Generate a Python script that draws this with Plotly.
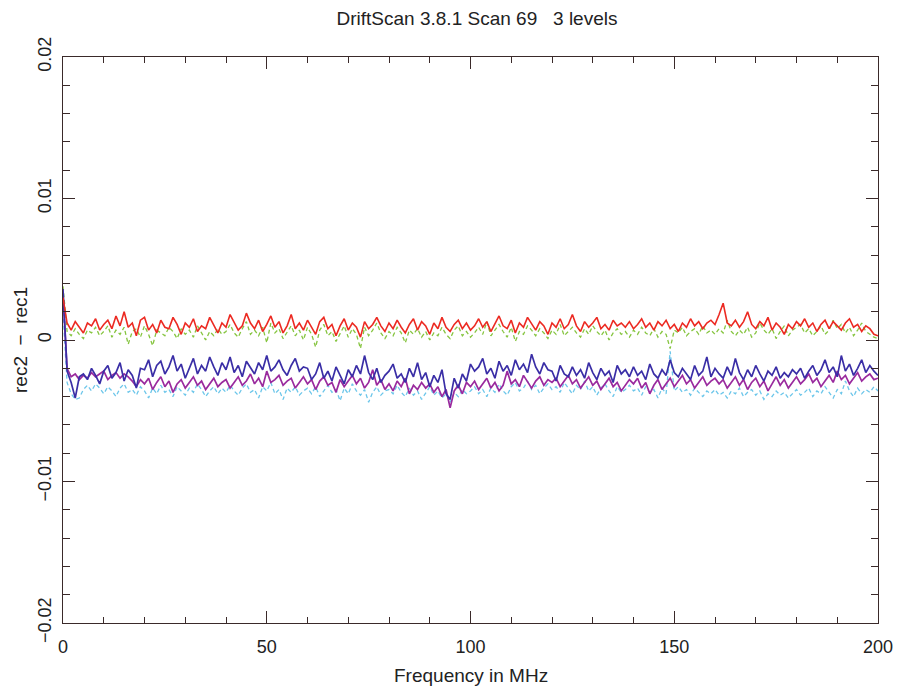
import plotly.graph_objects as go

# Frequency channels (MHz)
freq = list(range(201))

# Values, in units of 1e-4 (rec2 - rec1)
red_e4 = [
    30, 12, 7, 13, 9, 5, 12, 10, 15, 7, 11, 14, 8, 17, 10, 20, 9, 12, 3, 14,
    16, 7, 11, 5, 14, 9, 8, 16, 11, 4, 12, 9, 15, 6, 10, 8, 16, 11, 5, 12,
    9, 18, 13, 7, 10, 19, 12, 8, 14, 6, 11, 17, 9, 13, 5, 10, 18, 8, 12, 7,
    14, 9, 4, 13, 16, 8, 11, 3, 10, 15, 7, 12, 9, 2, 13, 8, 11, 16, 10, 6,
    12, 8, 14, 9, 5, 11, 15, 7, 13, 10, 4, 12, 8, 16, 9, 6, 11, 14, 8, 12,
    7, 10, 15, 9, 13, 6, 11, 17, 10, 8, 14, 5, 12, 9, 16, 11, 7, 13, 10, 4,
    12, 9, 15, 8, 11, 18, 10, 6, 13, 9, 12, 16, 8, 11, 7, 14, 10, 12, 9, 13,
    8, 11, 15, 9, 12, 7, 13, 10, 14, 8, 11, 6, 12, 9, 15, 10, 13, 8, 12, 14,
    11, 18, 26, 12, 10, 14, 9, 13, 20, 11, 8, 13, 10, 16, 7, 12, 9, 4, 11, 8,
    13, 10, 15, 9, 12, 6, 11, 14, 8, 13, 10, 7, 12, 15, 9, 11, 6, 10, 8, 4, 3,
]
green_e4 = [
    38, 6, 3, 8, 4, 1, 7, 5, 9, 3, 6, 10, 2, 7, 4, 9, -3, 6, 8, 2,
    10, 4, -4, 7, 5, 3, 9, 6, 1, 8, 4, 7, 2, 10, 5, 0, 6, 3, 8, 4,
    6, 11, 5, 2, 8, 13, 4, 7, 3, 9, -2, 12, 5, 8, 1, 6, 10, 3, 7, 0,
    9, 4, -5, 7, 11, 3, 6, -1, 5, 10, 2, 8, 4, -6, 9, 3, 7, 12, 5, 1,
    6, 3, 9, 5, -2, 7, 4, 8, 2, 6, 0, 5, 3, 9, 4, 1, 7, 10, 3, 6,
    2, 5, 9, 4, 13, 3, 7, 11, 6, 2, 9, -1, 6, 4, 10, 7, 3, 8, 5, 1,
    7, 4, 11, 3, 6, 9, 5, 2, 8, 4, 10, 6, 3, 7, 0, 5, 8, 4, 6, 2,
    7, 4, 9, 5, 3, 8, 2, 6, 4, -6, 7, 5, 9, 3, 6, 8, 4, 10, 5, 7,
    4, 8, 5, 14, 6, 3, 7, 4, 9, 2, 5, 12, 7, 4, 8, 1, 6, 10, 3, 7,
    9, 11, 5, 8, 3, 6, 10, 4, 7, 14, 8, 11, 5, 9, 3, 7, 12, 6, 4, 2, 1,
]
blue_e4 = [
    36, -22, -30, -41, -26, -24, -28, -20, -25, -31, -22, -18, -27, -23, -16, -29, -21, -25, -34, -20,
    -21, -14, -26, -18, -15, -24, -19, -11, -22, -17, -27, -20, -13, -24, -18, -22, -12, -19, -25, -16,
    -21, -12, -23, -18, -26, -15, -20, -24, -16, -21, -11, -22, -19, -14, -21, -25, -18, -13, -22, -19,
    -20, -28, -24, -16, -27, -22, -29, -19, -25, -31, -21, -26, -18, -24, -11, -23, -28, -20, -30, -25,
    -22, -17, -27, -24, -30, -20, -26, -16, -28, -23, -33, -25, -30, -21, -38, -42, -27, -34, -24, -29,
    -17, -22, -19, -13, -24, -20, -27, -15, -22, -18, -25, -14, -21, -17, -23, -10, -19, -24, -16, -21,
    -22, -29, -18, -24, -26, -19, -25, -21, -27, -16, -23, -28, -20, -25, -22, -30, -18, -24, -21, -26,
    -19, -25, -22, -28, -17, -24, -27, -21, -25, -14, -23, -26, -20, -24, -28, -18, -25, -22, -12, -26,
    -20, -24, -27, -19, -25, -13, -23, -28, -21, -26, -18, -24, -29, -22, -25, -19, -27, -23, -26, -21,
    -24, -20, -27, -22, -18, -25, -21, -14, -23, -19, -26, -11, -22, -17, -25, -20, -14, -23, -18, -22, -25,
]
purple_e4 = [
    32, -20, -26, -24, -28, -25, -27, -23, -26, -24, -22, -28, -25, -23, -27, -24, -26, -29, -33, -28,
    -31, -27, -35, -30, -26, -33, -29, -37, -31, -28, -34, -30, -26, -32, -29, -35, -31, -27, -33, -30,
    -28, -34, -30, -26, -32, -29, -24, -31, -27, -33, -22, -30, -28, -25, -32, -29, -27, -34, -30, -26,
    -31, -28, -35, -29, -26, -32, -30, -37, -28, -33, -29, -25, -31, -27, -34, -30, -21, -32, -28, -35,
    -31, -36, -29, -33, -27, -38, -32, -35, -30, -34, -31, -37, -33, -40, -35, -48, -36, -32, -38, -30,
    -33, -29, -35, -31, -27, -34, -30, -36, -32, -22, -31, -28, -33, -25, -30, -34, -29, -26, -32, -28,
    -30, -27, -33, -29, -25, -31, -28, -34, -30, -26, -32, -29, -35, -31, -27, -33, -30, -36, -32, -28,
    -31, -27, -34, -30, -38, -32, -28, -35, -31, -27, -33, -29, -25, -31, -28, -34, -30, -26, -32, -29,
    -27, -31, -28, -34, -30, -26, -32, -28, -35, -30, -27, -33, -29, -36, -31, -26, -32, -28, -34, -30,
    -26, -31, -28, -24, -30, -27, -33, -29, -25, -30, -22, -28, -25, -31, -27, -23, -29, -26, -24, -28, -27,
]
cyan_e4 = [
    20, -30, -38, -42, -41, -35, -32, -36, -31, -34, -38, -33, -36, -40, -34, -31, -37, -35, -39, -33,
    -36, -41, -34, -38, -32, -37, -35, -40, -33, -36, -39, -34, -37, -31, -35, -40, -36, -33, -38, -34,
    -37, -32, -36, -39, -34, -31, -37, -35, -41, -33, -36, -30, -38, -35, -42, -34, -37, -33, -39, -36,
    -34, -38, -33, -40, -36, -32, -37, -35, -43, -34, -38, -31, -36, -39, -35, -44, -37, -33, -39, -36,
    -35, -38, -32, -37, -40, -34, -39, -36, -42, -37, -33, -39, -36, -41, -38, -44, -37, -40, -35, -38,
    -36, -33, -38, -35, -40, -34, -37, -31, -36, -39, -33, -30, -36, -34, -29, -35, -32, -38, -34, -31,
    -35, -33, -37, -30, -34, -38, -32, -35, -29, -36, -33, -39, -34, -31, -36, -40, -33, -37, -35, -32,
    -36, -34, -39, -33, -37, -35, -41, -34, -38, -8, -36, -33, -37, -35, -39, -34, -37, -40, -36, -38,
    -35, -39, -37, -41, -36, -38, -34, -40, -37, -35, -39, -36, -42, -38, -40, -36, -39, -37, -41, -38,
    -35, -39, -37, -34, -40, -36, -38, -33, -37, -41, -35, -38, -29, -36, -40, -34, -38, -35, -37, -33, -36,
]

SCALE = 1e-4
series = [
    ("cyan", cyan_e4, "#6cc6ea", "4px,3px", 1.3),
    ("green", green_e4, "#86c540", "4px,3px", 1.3),
    ("purple", purple_e4, "#9a2a9e", "solid", 1.7),
    ("blue", blue_e4, "#3a2ea6", "solid", 1.7),
    ("red", red_e4, "#ec2a22", "solid", 1.6),
]

fig = go.Figure()
for name, vals, color, dash, w in series:
    n = min(len(freq), len(vals))
    fig.add_trace(go.Scatter(
        x=freq[:n], y=[v * SCALE for v in vals[:n]], mode="lines", name=name,
        line=dict(color=color, width=w, dash=dash), showlegend=False,
    ))

FONT = "Liberation Sans"
TXT = "#222"
axis_common = dict(
    showgrid=False, zeroline=False, showline=True, linecolor="#3a2a2a", linewidth=1.2,
    mirror="ticks", ticks="inside", tickcolor="#3a2a2a", tickwidth=1,
    tickfont=dict(family=FONT, size=18, color=TXT), automargin=False,
)
fig.update_layout(
    width=898, height=690,
    margin=dict(l=63, r=20, t=57, b=67),
    paper_bgcolor="white", plot_bgcolor="white",
    title=dict(text="DriftScan 3.8.1 Scan 69   3 levels", x=477 / 898, xanchor="center",
               xref="container", y=1 - 18 / 690, yanchor="middle", yref="container",
               font=dict(family=FONT, size=19, color=TXT)),
    xaxis=dict(range=[0, 200], tickvals=[0, 50, 100, 150, 200], ticklen=12,
               ticklabelstandoff=7,
               minor=dict(ticks="inside", ticklen=6, dtick=10, tickcolor="#3a2a2a"),
               **axis_common),
    yaxis=dict(range=[-0.02, 0.02], tickvals=[-0.02, -0.01, 0, 0.01, 0.02],
               ticktext=["\u22120.02", "\u22120.01", "0", "0.01", "0.02"],
               tickangle=-90, ticklen=12, ticklabelstandoff=4,
               minor=dict(ticks="inside", ticklen=7, dtick=0.002, tickcolor="#3a2a2a"),
               **axis_common),
    annotations=[
        dict(text="Frequency in MHz", xref="paper", yref="paper", x=0.5, y=-52 / 566,
             xanchor="center", yanchor="middle", showarrow=False,
             font=dict(family=FONT, size=19, color=TXT)),
        dict(text="rec2  \u2212  rec1", xref="paper", yref="paper", x=-43 / 815, y=0.5,
             xanchor="center", yanchor="middle", textangle=-90, showarrow=False,
             font=dict(family=FONT, size=19, color=TXT)),
    ],
)

fig.write_html("out.html")
